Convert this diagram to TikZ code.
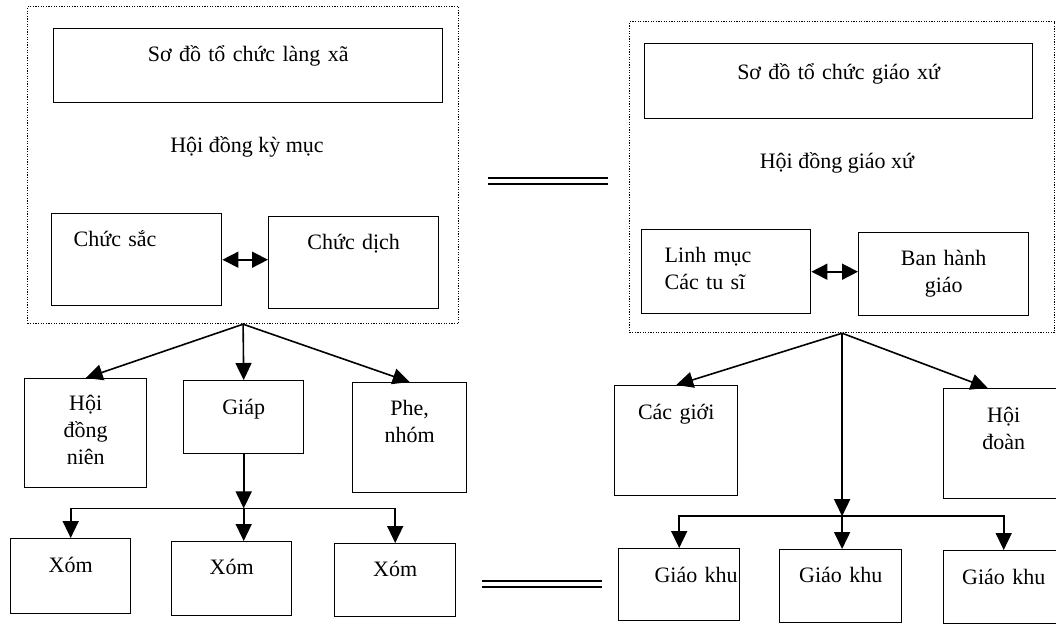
\documentclass[tikz,border=0pt]{standalone}
\usepackage{fontspec}
\setmainfont{Liberation Serif}
\usetikzlibrary{arrows.meta,positioning,calc}

\begin{document}
\begin{tikzpicture}[
x=1pt, y=-1pt,
every node/.style={font=\fontsize{22}{27}\selectfont},
frame/.style={draw, dash pattern=on 1.2pt off 1.4pt, line width=1.2pt, anchor=north west, inner sep=0pt},
unit/.style={draw, line width=1.4pt, anchor=north west, inner xsep=0pt, inner ysep=0pt, align=center, text height=33pt},
arr/.style={-{Triangle[length=17pt,width=16pt]}, line width=1.6pt},
darr/.style={{Triangle[length=16pt,width=16pt]}-{Triangle[length=16pt,width=16pt]}, line width=1.6pt},
eq/.style={double, double distance=3.5pt, line width=2.2pt}
]
\useasboundingbox (0,0) rectangle (1056,625);

% Village side (left)
\node[frame, minimum width=431pt, minimum height=317pt] (VF) at (27,6) {};
\node[unit, text width=389pt, text depth=41pt] (V0) at (53,28) {Sơ đồ tổ chức làng xã};
\node (VH) at (247,147) {Hội đồng kỳ mục};
\node[unit, inner xsep=22pt, text width=126pt, align=left, text depth=59pt] (VA) at (51,213) {Chức sắc};
\node[unit, text width=170pt, text depth=59pt] (VB) at (268,216) {Chức dịch};
\draw[darr] (VA.east) -- (VA.east -| VB.west);

\node[unit, text width=122pt, text height=32pt, text depth=77pt] (V1) at (24,378) {Hội\\đồng\\niên};
\node[unit, text width=120pt, text height=34pt, text depth=39pt] (V2) at (183,380) {Giáp};
\node[unit, text width=114pt, text depth=77pt] (V3) at (352,382) {Phe,\\nhóm};
\draw[arr] (VF.south) -- (V1.north);
\draw[arr] (VF.south) -- (V2.north);
\draw[arr] (VF.south) -- (V3.north);

% Hamlets
\node[unit, text width=120pt, text height=34pt, text depth=41pt] (X1) at (10,538) {Xóm};
\node[unit, text width=120pt, text depth=41pt] (X2) at (171,541) {Xóm};
\node[unit, text width=121pt, text depth=40pt] (X3) at (334,543) {Xóm};
\coordinate (VJ) at ($(V2.south)+(0,54)$);
\draw[arr] (V2.south) -- (VJ);
\draw[arr] (VJ) -| (X1.north);
\draw[arr] (VJ) -- (VJ |- X2.north);
\draw[arr] (VJ) -| (X3.north);

% Parish side (right)
\node[frame, minimum width=425pt, minimum height=311pt] (PF) at (629,21) {};
\node[unit, text width=388pt, text height=36pt, text depth=39pt] (P0) at (644,43) {Sơ đồ tổ chức giáo xứ};
\node (PH) at (837,163) {Hội đồng giáo xứ};
\node[unit, inner xsep=23pt, text width=123pt, align=left, text depth=51pt] (PA) at (641,229) {Linh mục\\Các tu sĩ};
\node[unit, text width=170pt, text depth=50pt] (PB) at (858,232) {Ban hành\\giáo};
\draw[darr] (PA.east) -- (PA.east -| PB.west);

\node[unit, text width=123pt, text height=34pt, text depth=76pt] (P1) at (614,385) {Các giới};
\node[unit, text width=120pt, text height=34pt, text depth=76pt] (P3) at (943,388) {Hội\\đoàn};
\draw[arr] (PF.south) -- (P1.north);
\draw[arr] (PF.south) -- ($(P3.north)+(-16,0)$);

% Sub-parishes
\node[unit, inner xsep=2pt, text width=117pt, align=right, text height=34pt, text depth=38pt] (K1) at (618,548) {Giáo khu};
\node[unit, text width=122pt, text depth=40pt] (K2) at (779,549) {Giáo khu};
\node[unit, text width=120pt, text height=34pt, text depth=39pt] (K3) at (943,550) {Giáo khu};
\coordinate (PJ) at ($(PF.south)+(0,183)$);
\draw[arr] (PF.south) -- (PJ);
\draw[arr] (PJ) -| (K1.north);
\draw[arr] (PJ) -- (PJ |- K2.north);
\draw[arr] (PJ) -| (K3.north);

% Equivalence marks
\draw[eq] (488,181) -- (608,181);
\draw[eq] (482,584) -- (602,584);
\end{tikzpicture}
\end{document}
